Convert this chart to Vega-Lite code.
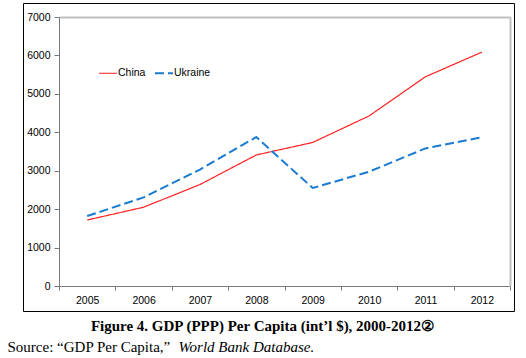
{
  "$schema": "https://vega.github.io/schema/vega-lite/v6.json",
  "width": 491,
  "height": 308,
  "autosize": {"type": "none"},
  "padding": {"left": 23, "top": 3, "right": 12, "bottom": 47},
  "background": "white",
  "config": {
    "view": {"stroke": "#000000", "strokeWidth": 1},
    "axis": {"labelFont": "Liberation Sans", "labelFontSize": 10.5, "labelColor": "#000000", "grid": false}
  },
  "data": {
    "values": [
      {"year": "2005", "country": "China", "gdp": 1717},
      {"year": "2006", "country": "China", "gdp": 2050},
      {"year": "2007", "country": "China", "gdp": 2640},
      {"year": "2008", "country": "China", "gdp": 3410},
      {"year": "2009", "country": "China", "gdp": 3735},
      {"year": "2010", "country": "China", "gdp": 4425},
      {"year": "2011", "country": "China", "gdp": 5445},
      {"year": "2012", "country": "China", "gdp": 6085},
      {"year": "2005", "country": "Ukraine", "gdp": 1820},
      {"year": "2006", "country": "Ukraine", "gdp": 2305},
      {"year": "2007", "country": "Ukraine", "gdp": 3030},
      {"year": "2008", "country": "Ukraine", "gdp": 3875},
      {"year": "2009", "country": "Ukraine", "gdp": 2550},
      {"year": "2010", "country": "Ukraine", "gdp": 2975},
      {"year": "2011", "country": "Ukraine", "gdp": 3580},
      {"year": "2012", "country": "Ukraine", "gdp": 3870}
    ]
  },
  "layer": [
    {
      "mark": {"type": "line", "opacity": 0},
      "encoding": {
        "x": {
          "field": "year", "type": "ordinal", "bandPosition": 0.5,
          "scale": {"type": "band", "range": [36, 487], "paddingInner": 0, "paddingOuter": 0},
          "axis": {"orient": "top", "offset": -14, "labels": false, "ticks": false, "domainColor": "#c0c0c0", "domainWidth": 2,
                   "title": "World Bank Database.", "titleFont": "Liberation Serif", "titleFontStyle": "italic", "titleFontWeight": "normal",
                   "titleFontSize": 15, "titleColor": "#000000", "titleAlign": "left", "titleBaseline": "alphabetic", "titleX": 155, "titleY": 334}
        },
        "y": {
          "field": "gdp", "type": "quantitative",
          "scale": {"domain": [0, 7000], "nice": false, "zero": true, "range": [283, 14]},
          "axis": {"orient": "right", "offset": -4, "labels": false, "ticks": false, "domainColor": "#c0c0c0", "domainWidth": 2, "title": null}
        },
        "detail": {"field": "country"}
      }
    },
    {
      "mark": {"type": "line"},
      "encoding": {
        "x": {
          "field": "year", "type": "ordinal", "bandPosition": 0.5,
          "scale": {"type": "band", "range": [36, 487], "paddingInner": 0, "paddingOuter": 0},
          "axis": {"orient": "bottom", "offset": -25, "tickBand": "extent", "tickSize": 4, "labelPadding": 5, "labelAngle": 0,
                   "domainColor": "#7a7a7a", "tickColor": "#7a7a7a",
                   "title": "Figure 4. GDP (PPP) Per Capita (int’l $), 2000-2012②", "titleFont": "Liberation Serif", "titleFontWeight": "bold",
                   "titleFontSize": 15, "titleColor": "#000000", "titleAlign": "center", "titleBaseline": "alphabetic", "titleX": 239, "titleY": 44}
        },
        "y": {
          "field": "gdp", "type": "quantitative",
          "scale": {"domain": [0, 7000], "nice": false, "zero": true, "range": [283, 14]},
          "axis": {"orient": "left", "offset": -36, "values": [0, 1000, 2000, 3000, 4000, 5000, 6000, 7000], "tickSize": 5, "labelPadding": 4,
                   "domainColor": "#7a7a7a", "tickColor": "#7a7a7a", "format": "d",
                   "title": "Source: “GDP Per Capita,”", "titleFont": "Liberation Serif", "titleFontWeight": "normal", "titleFontSize": 15,
                   "titleColor": "#000000", "titleAngle": 0, "titleAlign": "left", "titleBaseline": "alphabetic", "titleX": -52, "titleY": 348}
        },
        "color": {
          "field": "country", "type": "nominal",
          "scale": {"domain": ["China", "Ukraine"], "range": ["#ff2020", "#1a7bd0"]},
          "legend": {"orient": "none", "legendX": 75, "legendY": 60, "direction": "horizontal", "title": null,
                     "symbolType": "stroke", "symbolSize": 324, "labelFont": "Liberation Sans", "labelFontSize": 10.5,
                     "labelColor": "#000000", "labelOffset": 0, "columnPadding": 5}
        },
        "strokeDash": {
          "field": "country", "type": "nominal",
          "scale": {"domain": ["China", "Ukraine"], "range": [[1, 0], [9, 4]]},
          "legend": {"orient": "none", "legendX": 75, "legendY": 60, "direction": "horizontal", "title": null,
                     "symbolType": "stroke", "symbolSize": 324, "labelFont": "Liberation Sans", "labelFontSize": 10.5,
                     "labelColor": "#000000", "labelOffset": 0, "columnPadding": 5}
        },
        "strokeWidth": {
          "field": "country", "type": "nominal",
          "scale": {"domain": ["China", "Ukraine"], "range": [1.2, 2]},
          "legend": null
        }
      }
    }
  ],
  "resolve": {"scale": {"x": "independent", "y": "independent"}, "axis": {"x": "independent", "y": "independent"}}
}
